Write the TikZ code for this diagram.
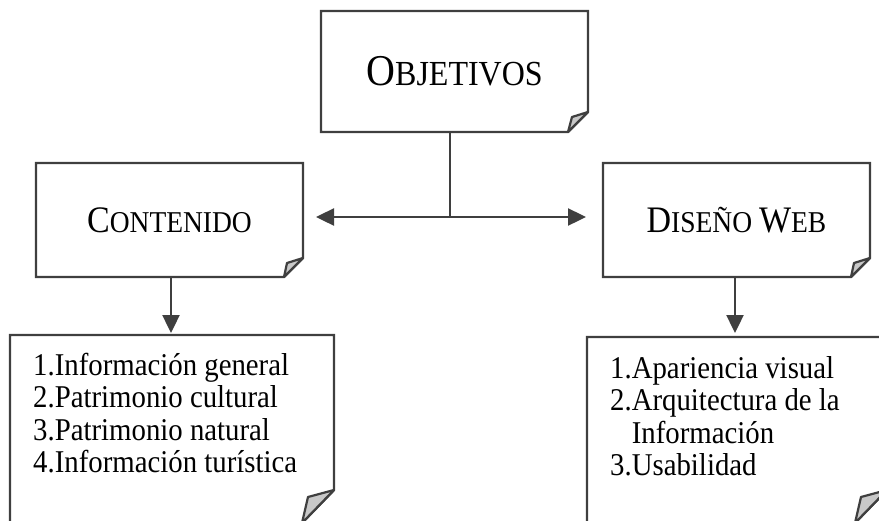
\documentclass[tikz,border=0pt]{standalone}
\usepackage{fontspec}
\setmainfont{Liberation Serif}
\usetikzlibrary{arrows.meta,calc}

\definecolor{gristrazo}{HTML}{3F3F3F}
\definecolor{grispliegue}{HTML}{C8C8C8}

% letra mayor para las versalitas
\newcommand{\mayus}[2]{{\fontsize{#1}{#1}\selectfont #2}}
% texto algo mas alto que ancho
\newcommand{\alto}[1]{\scalebox{1}[1.1]{#1}}

\tikzset{
  caja/.style={inner sep=0pt, outer sep=0pt},
  titulo/.style={caja, font=\fontsize{27.5}{30}\selectfont},
  lista/.style={inner sep=0pt, font=\fontsize{28.8}{29.6}\selectfont},
  borde/.style={draw=gristrazo, line width=2.4pt},
  pliegue/.style={draw=gristrazo, fill=grispliegue, line width=2.2pt, line join=round},
  flecha/.style={draw=gristrazo, line width=2.4pt, -{Triangle[length=18pt, width=17pt]}}
}

\begin{document}
\begin{tikzpicture}[x=1pt, y=-1pt]

\useasboundingbox (0,0) rectangle (879,520);

\node[titulo, minimum width=267pt, minimum height=121pt] (obj) at (454.5,71.5)
  {\alto{\mayus{40}{O}\mayus{32}{BJETIVOS}}};
\node[titulo, minimum width=267pt, minimum height=114pt] (cont) at (169.5,220)
  {\alto{\mayus{34}{C}ONTENIDO}};
\node[titulo, minimum width=267pt, minimum height=114pt] (dis) at (736.5,220)
  {\alto{\mayus{34}{D}ISEÑO \mayus{34}{W}EB}};
\node[caja, minimum width=324pt, minimum height=188pt] (lista1) at (172,429) {};
\node[caja, minimum width=300pt, minimum height=186pt] (lista2) at (737,430) {};

\node[lista, anchor=base west] (texto1) at ($(lista1.north west)+(23,40)$)
  {\alto{\begin{tabular}[t]{@{}r@{}l@{}}
   1.&Información general\\
   2.&Patrimonio cultural\\
   3.&Patrimonio natural\\
   4.&Información turística
   \end{tabular}}};
\node[lista, anchor=base west] (texto2) at ($(lista2.north west)+(23,41)$)
  {\alto{\begin{tabular}[t]{@{}r@{}l@{}}
   1.&Apariencia visual\\
   2.&Arquitectura de la\\
     &Información\\
   3.&Usabilidad
   \end{tabular}}};

\begin{scope}[borde]
\draw (obj.north west) -- (obj.north east) -- ($(obj.south east)+(0,-20)$) -- ($(obj.south east)+(-20,0)$) -- (obj.south west) -- cycle; %obj
\draw (cont.north west) -- (cont.north east) -- ($(cont.south east)+(0,-19)$) -- ($(cont.south east)+(-19,0)$) -- (cont.south west) -- cycle; %cont
\draw (dis.north west) -- (dis.north east) -- ($(dis.south east)+(0,-19)$) -- ($(dis.south east)+(-19,0)$) -- (dis.south west) -- cycle; %dis
\draw (lista1.north west) -- (lista1.north east) -- ($(lista1.south east)+(0,-33)$) -- ($(lista1.south east)+(-32,0)$) -- (lista1.south west) -- cycle; %lista1
\draw (lista2.north west) -- (lista2.north east) -- ($(lista2.south east)+(0,-33)$) -- ($(lista2.south east)+(-32,0)$) -- (lista2.south west) -- cycle; %lista2
\end{scope}

\begin{scope}[pliegue]
\filldraw ($(obj.south east)+(0,-20)$) -- ($(obj.south east)+(-16,-15)$) -- ($(obj.south east)+(-20,0)$) -- cycle;
\filldraw ($(cont.south east)+(0,-19)$) -- ($(cont.south east)+(-16,-14)$) -- ($(cont.south east)+(-19,0)$) -- cycle;
\filldraw ($(dis.south east)+(0,-19)$) -- ($(dis.south east)+(-16,-14)$) -- ($(dis.south east)+(-19,0)$) -- cycle;
\filldraw ($(lista1.south east)+(0,-33)$) -- ($(lista1.south east)+(-26,-26)$) -- ($(lista1.south east)+(-32,0)$) -- cycle;
\filldraw ($(lista2.south east)+(0,-33)$) -- ($(lista2.south east)+(-26,-26)$) -- ($(lista2.south east)+(-32,0)$) -- cycle;
\end{scope}

\coordinate (cruce) at (450,217);
\coordinate (bajacont) at (171,277);
\coordinate (bajadis) at (735,277);
\draw[borde] (cruce |- obj.south) -- (cruce); %obj-cruce
\draw[flecha, shorten >=13pt] (cruce) -- (cruce -| cont.east); %cruce-cont
\draw[flecha, shorten >=17pt] (cruce) -- (cruce -| dis.west); %cruce-dis
\draw[flecha, shorten >=2pt] (bajacont) -- (bajacont |- lista1.north); %cont-lista1
\draw[flecha, shorten >=4pt] (bajadis) -- (bajadis |- lista2.north); %dis-lista2

\end{tikzpicture}
\end{document}
